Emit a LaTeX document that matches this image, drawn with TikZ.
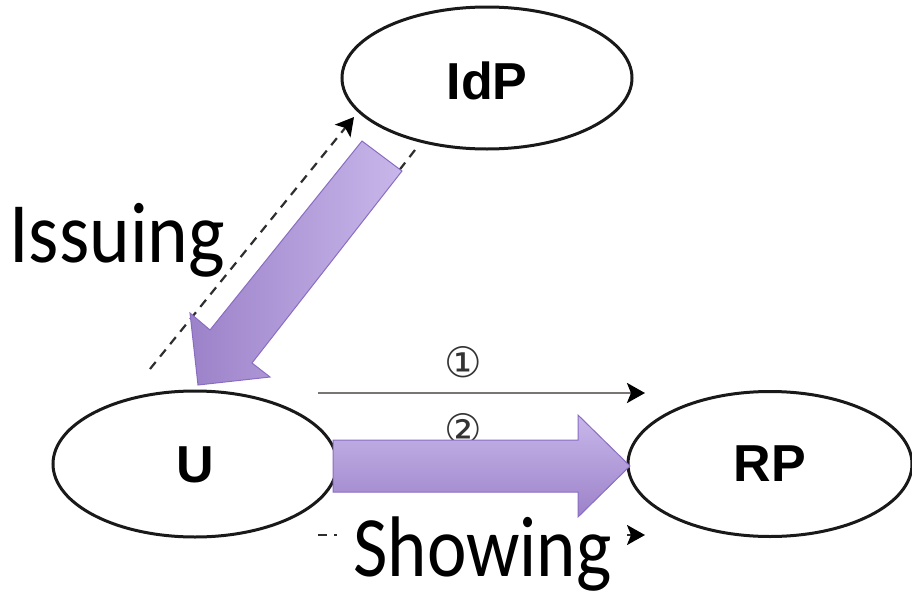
\documentclass[tikz,border=0pt]{standalone}
\usepackage{fontspec}
\setmainfont{Carlito}
\newfontfamily\lblfont{Liberation Sans}
\newfontfamily\symfont{DejaVu Sans}
\usetikzlibrary{shapes.geometric,arrows.meta}
\definecolor{plight}{HTML}{C8B7EA}
\definecolor{pdark}{HTML}{9C82C9}
\definecolor{pedge}{HTML}{8A6DC2}
\definecolor{lgray}{HTML}{7A7474}
\definecolor{dgray}{HTML}{2E2E2E}
\tikzset{
  ent/.style={ellipse, draw=black!90, line width=1.5pt, inner sep=0pt, fill=white},
  entlabel/.style={font=\lblfont\bfseries\fontsize{26}{30}\selectfont, anchor=base, inner sep=0pt},
  bigtext/.style={font=\fontsize{43}{52}\selectfont, inner sep=0pt},
  circnum/.style={font=\symfont\fontsize{21}{24}\selectfont, text=black!80, inner sep=0pt},
  tip/.style={-{Stealth[length=9pt,width=10pt,inset=2pt,black]}},
  msg/.style={draw=lgray, line width=1.4pt, tip},
  dmsg/.style={draw=dgray, line width=1.1pt, dash pattern=on 4.5pt off 3.5pt},
  blockarrow/.style={draw=pedge, line width=0.5pt},
}
\begin{document}
\begin{tikzpicture}[x=0.5pt,y=-0.5pt]
\useasboundingbox (0,0) rectangle (912,595);
% entities
\node[ent, minimum width=145pt, minimum height=71pt] (idp) at (487,78) {};
\node[ent, minimum width=142pt, minimum height=73pt] (u) at (195,464) {};
\node[ent, minimum width=142pt, minimum height=72.5pt] (rp) at (770,464) {};
\node[entlabel] (idpt) at (487,99) {IdP};
\node[entlabel] (ut) at (195,482) {U};
\node[entlabel] (rpt) at (770,481) {RP};
% message arrows
\coordinate (m1s) at (318,393);
\coordinate (m1e) at (645,393);
\draw[msg] (m1s) -- (m1e);
\node[circnum] (n1) at (463,362) {①};
\node[circnum] (n2) at (463,429) {②};
\coordinate (m3s) at (318,535);
\coordinate (m3e) at (645,535);
\draw[dmsg, tip] (m3s) -- (m3e);
% dashed lines between U and IdP
\coordinate (d1s) at (150,369);
\coordinate (d1e) at (354,117);
\draw[dmsg, tip] (d1s) -- (d1e);
\coordinate (d2s) at (415,150);
\coordinate (d2e) at (245,368);
\draw[dmsg] (d2s) -- (d2e);
% labels
\node[bigtext, anchor=base west] (iss) at (9,262) {\scalebox{0.9}[1]{Issuing}};
\node[bigtext, anchor=base west, fill=white, inner xsep=8pt, inner ysep=2pt] (show) at (337,576) {\scalebox{0.87}[1]{Showing}};
% block arrows
\path[blockarrow, left color=pdark, right color=plight]
  (362,141) -- (210,330) -- (190,313) -- (198,385) -- (270,377) -- (252,363) -- (402,171) -- cycle;
\path[blockarrow, top color=plight, bottom color=pdark]
  (333,440) -- (578,440) -- (578,415) -- (630,466) -- (578,517) -- (578,492) -- (333,492) -- cycle;
\end{tikzpicture}
\end{document}
